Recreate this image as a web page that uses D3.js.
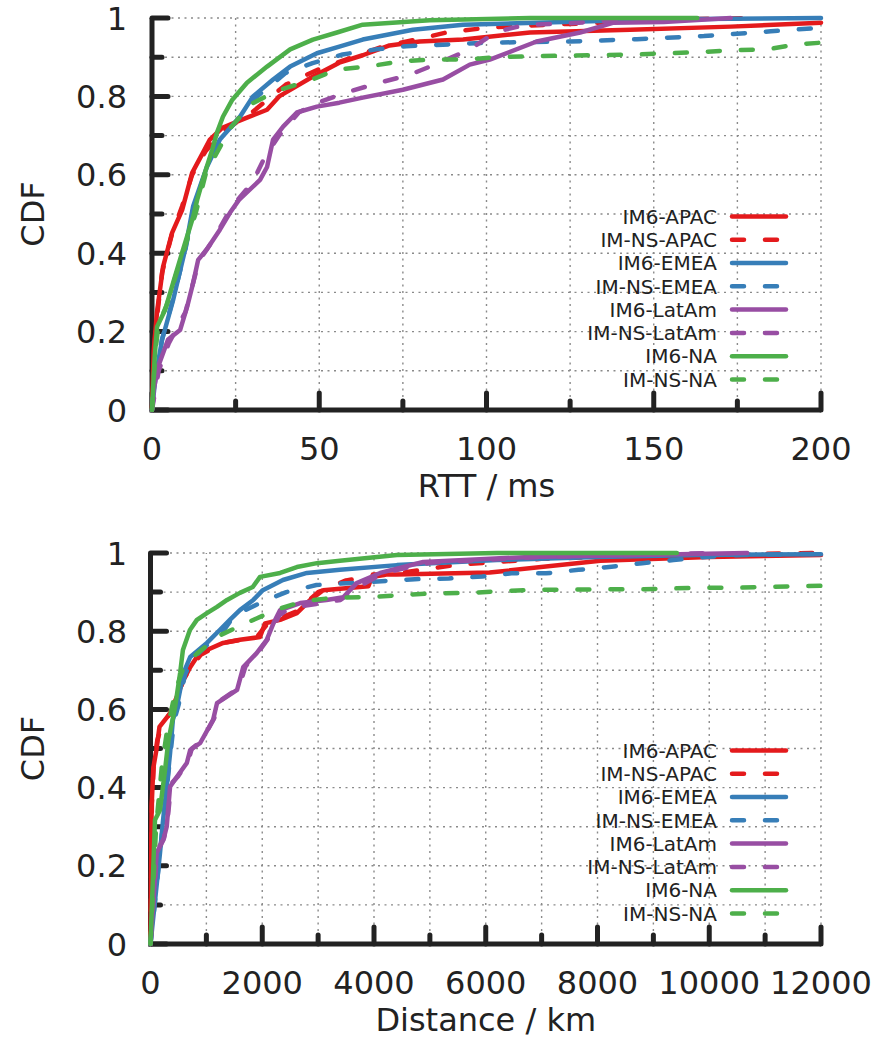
<!DOCTYPE html>
<html>
<head>
<meta charset="utf-8">
<script src="https://cdnjs.cloudflare.com/ajax/libs/d3/7.8.5/d3.min.js"></script>
<style>
  body { margin: 0; background: #fff; }
  text { font-family: "DejaVu Sans", sans-serif; fill: #222; }
</style>
</head>
<body>
<svg id="chart" width="883" height="1040"></svg>
<script>
// Series names / colours (gnuplot Set1 style)
const seriesNames = ["IM6-APAC", "IM-NS-APAC", "IM6-EMEA", "IM-NS-EMEA",
                     "IM6-LatAm", "IM-NS-LatAm", "IM6-NA", "IM-NS-NA"];
const seriesColors = ["#e41a1c", "#e41a1c", "#377eb8", "#377eb8",
                      "#984ea3", "#984ea3", "#4daf4a", "#4daf4a"];
const seriesDashed = [false, true, false, true, false, true, false, true];

// RTT CDFs, [ms, cdf]
const rttIM6APAC = [[0,0],[0.5,0.15],[1.5,0.25],[3.3,0.365],[6,0.452],[9,0.51],[12,0.605],[15.2,0.656],[17.3,0.69],[21,0.72],[28.4,0.746],[34.4,0.766],[38,0.8],[43,0.825],[48,0.85],[56,0.886],[63,0.905],[71,0.93],[80,0.94],[93,0.945],[113,0.963],[143,0.97],[173,0.978],[200,0.988]];
const rttNSAPAC = [[0,0],[1,0.2],[3,0.35],[6,0.45],[9,0.52],[12,0.6],[16,0.66],[21,0.71],[30,0.76],[40,0.83],[50,0.87],[60,0.9],[70,0.93],[79,0.945],[88,0.963],[100,0.975],[110,0.98],[125,0.985],[140,0.99],[160,0.997],[180,1]];
const rttIM6EMEA = [[0,0],[1,0.08],[3,0.179],[6.3,0.28],[9.9,0.409],[12.3,0.52],[16.4,0.62],[20.3,0.69],[26.3,0.748],[30.2,0.8],[36.2,0.843],[41.3,0.876],[49.3,0.91],[56,0.927],[63,0.945],[78,0.97],[93,0.983],[123,0.99],[153,0.997],[200,1]];
const rttNSEMEA = [[0,0],[1,0.08],[3,0.18],[6.5,0.29],[10,0.41],[12.5,0.52],[16.5,0.62],[20.5,0.69],[26,0.745],[30,0.79],[40,0.86],[48,0.885],[57,0.907],[67,0.92],[76,0.928],[87,0.932],[100,0.937],[125,0.94],[145,0.946],[165,0.954],[185,0.966],[200,0.975]];
const rttIM6LatAm = [[0,0],[0.5,0.05],[1.8,0.11],[4.8,0.18],[8.4,0.204],[10.5,0.263],[12.3,0.324],[13.8,0.383],[16.4,0.41],[20.3,0.46],[23.3,0.503],[26,0.536],[32.3,0.587],[34.4,0.62],[36.2,0.69],[39.2,0.723],[43.3,0.759],[49.3,0.774],[56,0.784],[63,0.797],[75,0.817],[87,0.843],[95,0.881],[101,0.894],[115,0.94],[128,0.963],[138,0.988],[153,0.99],[173,1]];
const rttNSLatAm = [[0,0],[2,0.1],[5,0.17],[10,0.25],[14,0.38],[18,0.43],[24,0.52],[30,0.58],[34,0.65],[38,0.7],[44,0.76],[50,0.785],[58,0.81],[68,0.835],[77,0.855],[86,0.886],[95,0.92],[103,0.965],[112,0.983],[122,0.985],[140,0.995],[160,1]];
const rttIM6NA = [[0,0],[0.8,0.135],[1.5,0.212],[3.9,0.255],[6.3,0.324],[9.3,0.41],[12.3,0.493],[13.5,0.536],[15.8,0.605],[18,0.664],[19.4,0.707],[21.2,0.748],[23.9,0.79],[28.4,0.835],[34.4,0.876],[41.3,0.92],[48.1,0.945],[55.3,0.963],[63,0.983],[83,0.994],[113,1],[163,1]];
const rttNSNA = [[0,0],[1,0.15],[2,0.22],[4.5,0.27],[7,0.34],[10,0.42],[13,0.5],[16,0.6],[19,0.65],[23.5,0.72],[29.5,0.78],[37.5,0.815],[47,0.84],[55,0.868],[65,0.877],[75,0.89],[84,0.894],[94,0.894],[104,0.901],[124,0.904],[144,0.907],[154,0.91],[164,0.913],[174,0.918],[184,0.92],[193,0.933],[200,0.937]];

// Distance CDFs, [km, cdf]
const distIM6APAC = [[0,0],[20,0.35],[50,0.45],[110,0.5],[160,0.555],[350,0.59],[470,0.632],[590,0.675],[710,0.708],[830,0.734],[1010,0.752],[1300,0.77],[1600,0.778],[1960,0.785],[2050,0.82],[2320,0.829],[2620,0.846],[2860,0.88],[3090,0.905],[3900,0.915],[3980,0.945],[4400,0.945],[6070,0.95],[8050,0.98],[10000,0.99],[12000,0.995]];
const distNSAPAC = [[0,0],[25,0.36],[60,0.46],[120,0.52],[200,0.56],[400,0.6],[600,0.68],[900,0.74],[1300,0.77],[1900,0.785],[2100,0.82],[2600,0.85],[3000,0.9],[3500,0.93],[4500,0.95],[5500,0.97],[7000,0.985],[9000,0.995],[12000,1]];
const distIM6EMEA = [[0,0],[170,0.233],[225,0.317],[290,0.402],[350,0.488],[400,0.573],[470,0.606],[590,0.693],[710,0.734],[1010,0.77],[1240,0.803],[1420,0.829],[1600,0.854],[1840,0.88],[2010,0.905],[2370,0.931],[2800,0.949],[3390,0.957],[4410,0.969],[6200,0.982],[7990,0.99],[9780,0.995],[12000,0.997]];
const distNSEMEA = [[0,0],[170,0.23],[230,0.32],[300,0.41],[360,0.49],[420,0.57],[500,0.61],[620,0.69],[760,0.73],[1050,0.77],[1300,0.8],[1500,0.84],[2000,0.875],[2430,0.9],[2970,0.918],[3780,0.925],[4730,0.933],[5340,0.935],[5940,0.94],[6460,0.948],[7080,0.948],[7660,0.957],[8250,0.965],[8800,0.974],[9360,0.982],[9950,0.99],[10600,0.995],[12000,0.998]];
const distIM6LatAm = [[0,0],[110,0.233],[230,0.266],[290,0.3],[350,0.402],[470,0.427],[650,0.463],[710,0.496],[890,0.514],[1120,0.573],[1190,0.616],[1550,0.65],[1660,0.708],[1900,0.744],[2080,0.778],[2200,0.82],[2320,0.854],[2680,0.872],[3150,0.88],[3450,0.887],[3690,0.923],[4110,0.949],[4880,0.977],[6790,0.99],[10680,1]];
const distNSLatAm = [[0,0],[120,0.24],[240,0.27],[300,0.31],[370,0.41],[500,0.43],[680,0.47],[740,0.5],[920,0.52],[1150,0.58],[1220,0.62],[1580,0.655],[1700,0.71],[1950,0.75],[2150,0.79],[2300,0.84],[2500,0.86],[3000,0.87],[3400,0.88],[3800,0.92],[4200,0.95],[5000,0.975],[7000,0.99],[10000,1]];
const distIM6NA = [[0,0],[80,0.317],[170,0.343],[260,0.445],[320,0.52],[440,0.606],[530,0.693],[580,0.752],[705,0.803],[830,0.829],[1010,0.846],[1190,0.862],[1370,0.88],[1600,0.898],[1830,0.913],[1960,0.939],[2320,0.949],[2620,0.964],[2980,0.974],[3390,0.98],[4410,0.995],[6200,1],[9420,1]];
const distNSNA = [[0,0],[100,0.3],[200,0.45],[300,0.55],[450,0.65],[600,0.71],[850,0.745],[1250,0.79],[1750,0.823],[2230,0.854],[2750,0.877],[3300,0.886],[3930,0.887],[4520,0.893],[5120,0.897],[5720,0.898],[6310,0.903],[6910,0.906],[8000,0.907],[8700,0.907],[9250,0.909],[9840,0.911],[10440,0.911],[11040,0.913],[11580,0.915],[12000,0.916]];

const rttSeries = [rttIM6APAC, rttNSAPAC, rttIM6EMEA, rttNSEMEA, rttIM6LatAm, rttNSLatAm, rttIM6NA, rttNSNA];
const distSeries = [distIM6APAC, distNSAPAC, distIM6EMEA, distNSEMEA, distIM6LatAm, distNSLatAm, distIM6NA, distNSNA];

// Tick values
const rttMajor = [0, 50, 100, 150, 200];
const rttMinor = [25, 75, 125, 175];
const distMajor = [0, 2000, 4000, 6000, 8000, 10000, 12000];
const distMinor = [1000, 3000, 5000, 7000, 9000, 11000];
const cdfMajor = [0, 0.2, 0.4, 0.6, 0.8, 1];
const cdfMinor = [0.1, 0.3, 0.5, 0.7, 0.9];

const svg = d3.select('#chart');
const axisColor = '#222';

function drawPanel(cfg) {
  const x = d3.scaleLinear().domain(cfg.xDomain).range([cfg.left, cfg.right]);
  const y = d3.scaleLinear().domain([0, 1]).range([cfg.bottom, cfg.top]);
  const g = svg.append('g');

  // dotted grid
  const grid = g.append('g').attr('stroke', '#8a8a8a').attr('stroke-width', 1.4)
    .attr('stroke-dasharray', '2,4.5');
  cfg.xMajor.concat(cfg.xMinor).filter(v => v > cfg.xDomain[0]).forEach(v => {
    grid.append('line').attr('x1', x(v)).attr('x2', x(v)).attr('y1', cfg.bottom).attr('y2', cfg.top);
  });
  cdfMajor.concat(cdfMinor).filter(v => v > 0).forEach(v => {
    grid.append('line').attr('x1', cfg.left).attr('x2', cfg.right).attr('y1', y(v)).attr('y2', y(v));
  });

  // ticks (inward) and axis lines
  const ax = g.append('g').attr('stroke', axisColor).attr('stroke-width', 5).attr('stroke-linecap', 'round');
  cfg.xMajor.forEach(v => ax.append('line').attr('x1', x(v)).attr('x2', x(v)).attr('y1', cfg.bottom).attr('y2', cfg.bottom - 17));
  cfg.xMinor.forEach(v => ax.append('line').attr('x1', x(v)).attr('x2', x(v)).attr('y1', cfg.bottom).attr('y2', cfg.bottom - 9));
  cdfMajor.forEach(v => ax.append('line').attr('x1', cfg.left).attr('x2', cfg.left + 16).attr('y1', y(v)).attr('y2', y(v)));
  cdfMinor.forEach(v => ax.append('line').attr('x1', cfg.left).attr('x2', cfg.left + 10).attr('y1', y(v)).attr('y2', y(v)));
  ax.append('path').attr('fill', 'none').attr('stroke-linecap', 'butt')
    .attr('d', `M${cfg.left},${cfg.top} V${cfg.bottom} H${cfg.right}`);

  // curves
  const line = d3.line().x(d => x(d[0])).y(d => y(d[1]));
  cfg.series.forEach((s, i) => {
    g.append('path')
      .attr('d', line(s))
      .attr('fill', 'none')
      .attr('stroke', seriesColors[i])
      .attr('stroke-width', 4.5)
      .attr('stroke-linejoin', 'round')
      .attr('stroke-linecap', 'round')
      .attr('stroke-dasharray', seriesDashed[i] ? '12,21' : null);
  });

  // tick labels
  cdfMajor.forEach(v => {
    g.append('text').attr('x', 127).attr('y', y(v)).attr('dy', '0.36em')
      .attr('text-anchor', 'end').attr('font-size', 32).text(d3.format('~g')(v));
  });
  cfg.xMajor.forEach(v => {
    g.append('text').attr('x', x(v)).attr('y', cfg.bottom + 50).attr('text-anchor', 'middle')
      .attr('font-size', 32).text(v);
  });

  // axis titles
  g.append('text').attr('x', (cfg.left + cfg.right) / 2).attr('y', cfg.bottom + 87)
    .attr('text-anchor', 'middle').attr('font-size', 32).text(cfg.xTitle);
  g.append('text').attr('transform', `translate(44,${(cfg.top + cfg.bottom) / 2}) rotate(-90)`)
    .attr('text-anchor', 'middle').attr('font-size', 32).text('CDF');

  // legend
  const leg = g.append('g');
  seriesNames.forEach((name, i) => {
    const ly = cfg.bottom - 30.5 - (7 - i) * 23.3;
    leg.append('text').attr('x', 717).attr('y', ly).attr('dy', '0.36em')
      .attr('text-anchor', 'end').attr('font-size', 20).text(name);
    leg.append('line').attr('x1', 732).attr('x2', 786).attr('y1', ly).attr('y2', ly)
      .attr('stroke', seriesColors[i]).attr('stroke-width', 4.5).attr('stroke-linecap', 'round')
      .attr('stroke-dasharray', seriesDashed[i] ? '12,21' : null);
  });
}

drawPanel({
  xDomain: [0, 200], left: 152, right: 821, top: 18, bottom: 410,
  xMajor: rttMajor, xMinor: rttMinor, series: rttSeries, xTitle: 'RTT / ms'
});
drawPanel({
  xDomain: [0, 12000], left: 150.5, right: 821, top: 553, bottom: 944,
  xMajor: distMajor, xMinor: distMinor, series: distSeries, xTitle: 'Distance / km'
});
</script>
</body>
</html>
